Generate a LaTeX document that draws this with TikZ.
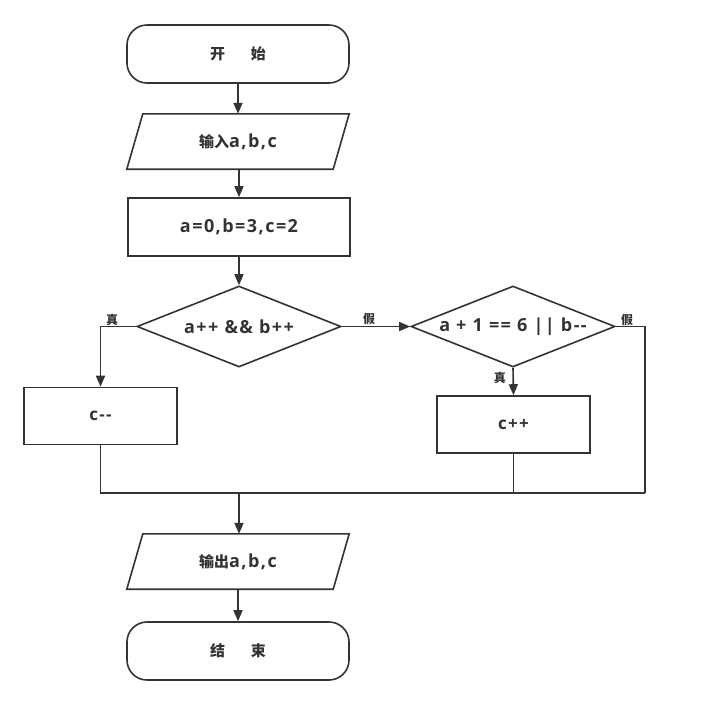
\documentclass[tikz,border=0pt]{standalone}
\usepackage{fontspec}
\setmainfont{Open Sans}[LetterSpace=8]
\newfontfamily\cjk{Noto Sans CJK SC}
\usetikzlibrary{arrows.meta,shapes.geometric}
\definecolor{ink}{HTML}{333333}
\tikzset{
  base/.style={draw=ink, line width=1.6pt, text=ink, font=\fontsize{18}{21}\selectfont\bfseries, inner sep=0pt},
  term/.style={base, rounded corners=20pt, minimum width=222pt, minimum height=58pt, font=\fontsize{15}{18}\selectfont\bfseries},
  procbox/.style={base, minimum width=222pt, minimum height=58pt},
  smallbox/.style={base, minimum width=153pt, minimum height=57pt, font=\fontsize{17}{20}\selectfont\bfseries},
  iobox/.style={inner sep=0pt, text=ink, font=\fontsize{18}{21}\selectfont\bfseries, minimum width=222pt, minimum height=55pt},
  decide/.style={base, diamond, aspect=2.5, minimum width=204pt, minimum height=81pt},
  link/.style={draw=ink, line width=1.6pt},
  arr/.style={link, -{Triangle[length=11pt,width=9pt]}},
  lbl/.style={text=ink, font=\cjk\fontsize{12}{14}\selectfont\bfseries, inner sep=1pt},
}
\begin{document}
\begin{tikzpicture}[x=1pt,y=-1pt]
\useasboundingbox[fill=white] (0,0) rectangle (712,705);
\node[term] (start) at (238,54) {\cjk 开\hspace{26pt}始};
\node[iobox] (in) at (238,141.5) {{\cjk\fontsize{15}{18}\selectfont 输入}a,b,c};
\draw[link] ([xshift=16pt]in.north west) -- (in.north east) -- ([xshift=-16pt]in.south east) -- (in.south west) -- cycle;
\node[procbox] (init) at (239,227) {a=0,b=3,c=2};
\node[decide] (d1) at (239,326.5) {a++ \&\& b++};
\node[decide] (d2) at (513,326.5) {a + 1 == 6 || b-{}-};
\node[smallbox] (cm) at (100.5,416) {c-{}-};
\node[smallbox] (cp) at (513.5,424.5) {c++};
\node[iobox] (out) at (238,561.5) {{\cjk\fontsize{15}{18}\selectfont 输出}a,b,c};
\draw[link] ([xshift=16pt]out.north west) -- (out.north east) -- ([xshift=-16pt]out.south east) -- (out.south west) -- cycle;
\node[term] (stop) at (238,651) {\cjk 结\hspace{26pt}束};
\coordinate (m) at (239,493);
\coordinate (mr) at (645,493);
\coordinate (dr) at (645,326.5);
\draw[arr] (start.south) -- (start.south |- in.north);
\draw[arr] (in.south -| init.north) -- (init.north);
\draw[arr] (init.south) -- (d1.north);
\draw[arr] (d1.east) -- node[lbl, above, pos=0.4] {假} (d2.west);
\draw[arr] (d1.west) -| (cm.north);
\node[lbl, anchor=south] (t1) at (112,326.5) {真};
\draw[arr] (d2.south) -- (cp.north);
\node[lbl, anchor=east] (t2) at (507,378) {真};
\draw[link] (d2.east) -- (dr) -- (mr);
\node[lbl, anchor=south] (f2) at (627,326.5) {假};
\draw[link] (cm.south) |- (mr);
\draw[link] (cp.south) -- (cp.south |- mr);
\draw[arr] (m) -- (m |- out.north);
\draw[arr] (out.south -| stop.north) -- (stop.north);
\end{tikzpicture}
\end{document}
